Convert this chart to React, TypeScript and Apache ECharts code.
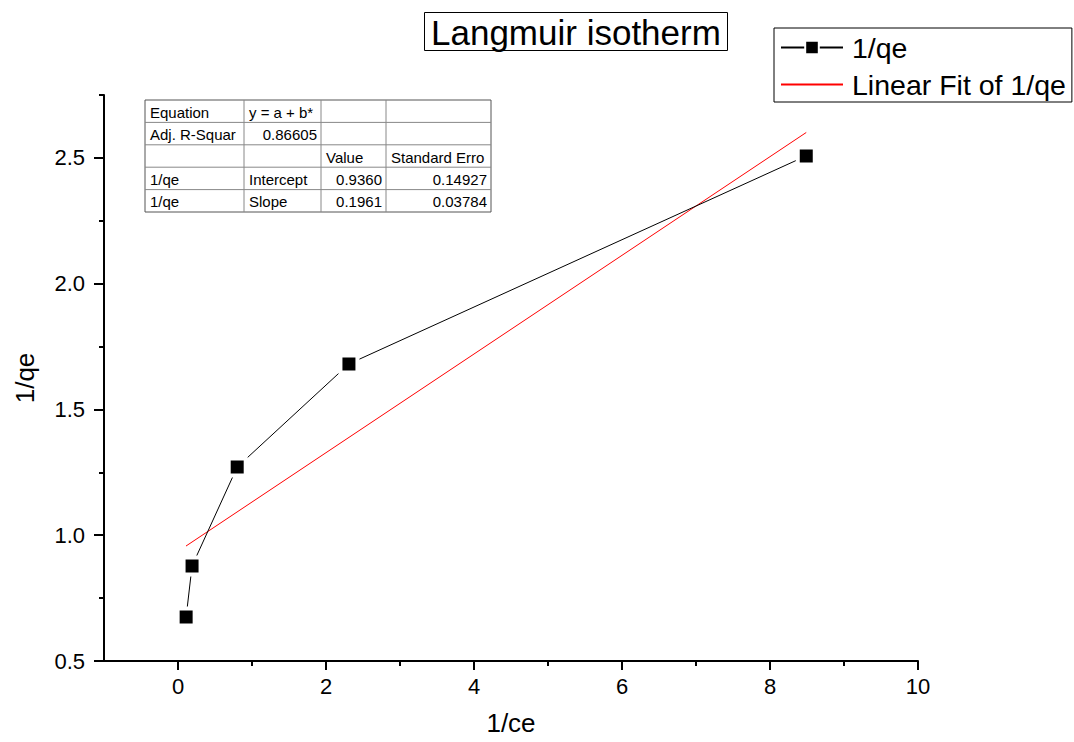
import React, { useEffect, useRef } from "react";
import * as echarts from "echarts";

// ---- data ----
const seriesName = "1/qe";
const fitName = "Linear Fit of 1/qe";
const xValues = [0.11, 0.19, 0.8, 2.31, 8.49];
const yValues = [0.675, 0.878, 1.271, 1.681, 2.508];
const fitX = [0.108, 8.49];
const fitY = [0.957, 2.601];

const xMajorTicks = [0, 2, 4, 6, 8, 10];
const xMinorTicks = [1, 3, 5, 7, 9];
const yMajorTicks = [0.5, 1.0, 1.5, 2.0, 2.5];
const yMinorTicks = [0.75, 1.25, 1.75, 2.25, 2.75];

const titleText = "Langmuir isotherm";
const xName = "1/ce";
const yName = "1/qe";

const tableRows: string[][] = [
  ["Equation", "y = a + b*", "", ""],
  ["Adj. R-Squar", "0.86605", "", ""],
  ["", "", "Value", "Standard Erro"],
  ["1/qe", "Intercept", "0.9360", "0.14927"],
  ["1/qe", "Slope", "0.1961", "0.03784"],
];

const FONT = "'Liberation Sans', Arial, sans-serif";

function buildTable() {
  const colX = [145, 244, 321, 386, 491];
  const top = 100;
  const rowH = 22.4;
  const children: any[] = [];
  const nRows = tableRows.length;
  const bottom = top + rowH * nRows;
  children.push({
    type: "rect",
    shape: { x: colX[0], y: top, width: colX[4] - colX[0], height: bottom - top },
    style: { fill: "#fff", stroke: "#555", lineWidth: 1 },
  });
  for (let i = 1; i < nRows; i++) {
    children.push({
      type: "line",
      shape: { x1: colX[0], y1: top + rowH * i, x2: colX[4], y2: top + rowH * i },
      style: { stroke: "#888", lineWidth: 1 },
    });
  }
  for (let j = 1; j < 4; j++) {
    children.push({
      type: "line",
      shape: { x1: colX[j], y1: top, x2: colX[j], y2: bottom },
      style: { stroke: "#888", lineWidth: 1 },
    });
  }
  tableRows.forEach((row, i) => {
    row.forEach((cell, j) => {
      if (!cell) return;
      const numeric = /^[0-9.]+$/.test(cell);
      children.push({
        type: "text",
        x: numeric ? colX[j + 1] - 4 : colX[j] + 5,
        y: top + rowH * i + rowH / 2 + 1,
        style: {
          text: cell,
          fill: "#000",
          font: `15px ${FONT}`,
          textAlign: numeric ? "right" : "left",
          textVerticalAlign: "middle",
        },
      });
    });
  });
  return { type: "group", children };
}

export default function App() {
  const ref = useRef<HTMLDivElement>(null);
  useEffect(() => {
    document.body.style.margin = "0";
    const chart = echarts.init(ref.current!, null, { renderer: "svg" });
    const axisCommonX = {
      type: "value",
      min: -1,
      max: 10,
      position: "bottom",
      splitLine: { show: false },
    };
    const axisCommonY = {
      type: "value",
      min: 0.5,
      max: 2.75,
      position: "left",
      splitLine: { show: false },
    };
    chart.setOption({
      animation: false,
      backgroundColor: "#fff",
      title: {
        text: titleText,
        left: 424,
        top: 12,
        padding: [3, 7, 1, 7],
        borderColor: "#000",
        borderWidth: 1,
        textStyle: { fontSize: 35, fontWeight: "normal", color: "#000", fontFamily: FONT },
      },
      legend: {
        orient: "vertical",
        left: 774,
        top: 28,
        padding: [5, 6, 3, 6],
        itemGap: 8,
        itemWidth: 62,
        itemHeight: 17,
        borderColor: "#000",
        borderWidth: 1,
        textStyle: { fontSize: 28.5, color: "#000", fontFamily: FONT, padding: [0, 0, 0, 4] },
        data: [
          { name: seriesName },
          { name: fitName, itemStyle: { opacity: 0 } },
        ],
      },
      grid: { left: 104, right: 156, top: 95, bottom: 81 },
      xAxis: [
        {
          ...axisCommonX,
          name: xName,
          nameLocation: "middle",
          nameGap: 49,
          nameTextStyle: { fontSize: 26, color: "#000", fontFamily: FONT },
          axisLine: { show: true, onZero: false, lineStyle: { color: "#000", width: 2 } },
          axisTick: { show: true, customValues: xMajorTicks, length: 9, lineStyle: { color: "#000", width: 2 } },
          axisLabel: { customValues: xMajorTicks, margin: 14, fontSize: 22, color: "#000", fontFamily: FONT },
        },
        {
          ...axisCommonX,
          axisLine: { show: false, onZero: false },
          axisTick: { show: true, customValues: xMinorTicks, length: 5, lineStyle: { color: "#000", width: 2 } },
          axisLabel: { show: false },
        },
      ],
      yAxis: [
        {
          ...axisCommonY,
          name: yName,
          nameLocation: "middle",
          nameGap: 66,
          nameTextStyle: { fontSize: 26, color: "#000", fontFamily: FONT },
          axisLine: { show: true, onZero: false, lineStyle: { color: "#000", width: 2 } },
          axisTick: { show: true, customValues: yMajorTicks, length: 10, lineStyle: { color: "#000", width: 2 } },
          axisLabel: {
            customValues: yMajorTicks,
            margin: 19,
            fontSize: 22,
            color: "#000",
            fontFamily: FONT,
            formatter: (v: number) => v.toFixed(1),
          },
        },
        {
          ...axisCommonY,
          axisLine: { show: false, onZero: false },
          axisTick: { show: true, customValues: yMinorTicks, length: 5, lineStyle: { color: "#000", width: 2 } },
          axisLabel: { show: false },
        },
      ],
      series: [
        {
          name: fitName,
          type: "line",
          xAxisIndex: 0,
          yAxisIndex: 0,
          data: fitX.map((x, i) => [x, fitY[i]]),
          symbol: "none",
          lineStyle: { color: "#ff0000", width: 1 },
          itemStyle: { color: "#ff0000" },
          z: 2,
        },
        {
          name: seriesName,
          type: "line",
          xAxisIndex: 0,
          yAxisIndex: 0,
          data: xValues.map((x, i) => [x, yValues[i]]),
          symbol: "rect",
          symbolSize: 17,
          lineStyle: { color: "#000", width: 1 },
          itemStyle: { color: "#000", borderColor: "#fff", borderWidth: 4 },
          z: 3,
        },
      ],
      graphic: [buildTable()],
    });
    return () => chart.dispose();
  }, []);
  return <div ref={ref} style={{ width: 1074, height: 742 }} />;
}
